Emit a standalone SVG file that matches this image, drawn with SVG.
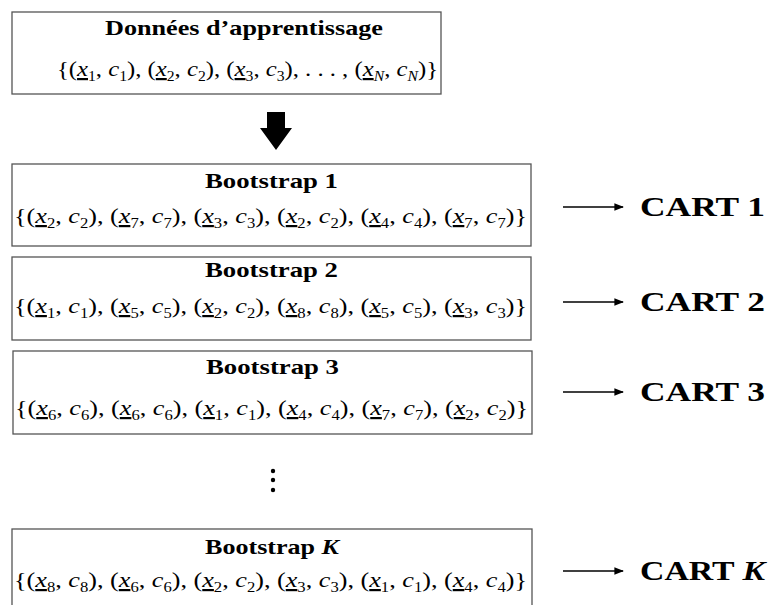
<svg xmlns="http://www.w3.org/2000/svg" width="780" height="605" viewBox="0 0 780 605">
<style>
.box{fill:#fff;stroke:#555;stroke-width:1.3}
.t{font-family:"Liberation Serif","DejaVu Serif",serif;font-weight:bold;font-size:21px;fill:#000}
.m{font-family:"Liberation Serif","DejaVu Serif",serif;font-size:22px;fill:#000}
.c{font-family:"Liberation Serif","DejaVu Serif",serif;font-weight:bold;font-size:27px;fill:#000}
.v{font-style:italic;text-decoration:underline}
.i{font-style:italic}
.s{font-size:14px}
.si{font-size:14px;font-style:italic}
.ar{stroke:#000;stroke-width:1.6;fill:none}
</style>
<defs>
<marker id="ah" viewBox="0 0 10 10" refX="9" refY="5" markerWidth="6" markerHeight="6" orient="auto" markerUnits="strokeWidth"><path d="M0,1 L10,5 L0,9 Z" fill="#000"/></marker>
</defs>

<g id="data">
<rect class="box" x="12" y="12" width="429" height="82"/>
<text class="t" x="105" y="35" textLength="278" lengthAdjust="spacingAndGlyphs">Données d’apprentissage</text>
<text class="m" x="57" y="76" textLength="381" lengthAdjust="spacingAndGlyphs">{(<tspan class="v">x</tspan><tspan class="s" dy="5">1</tspan><tspan dy="-5">, </tspan><tspan class="i">c</tspan><tspan class="s" dy="5">1</tspan><tspan dy="-5">), (</tspan><tspan class="v">x</tspan><tspan class="s" dy="5">2</tspan><tspan dy="-5">, </tspan><tspan class="i">c</tspan><tspan class="s" dy="5">2</tspan><tspan dy="-5">), (</tspan><tspan class="v">x</tspan><tspan class="s" dy="5">3</tspan><tspan dy="-5">, </tspan><tspan class="i">c</tspan><tspan class="s" dy="5">3</tspan><tspan dy="-5">), . . . , (</tspan><tspan class="v">x</tspan><tspan class="si" dy="5">N</tspan><tspan dy="-5">, </tspan><tspan class="i">c</tspan><tspan class="si" dy="5">N</tspan><tspan dy="-5">)}</tspan></text>
</g>

<g id="bigarrow">
<polygon points="267,112 285,112 285,128 292,128 276,150 260,128 267,128" fill="#000"/>
</g>

<g id="boot1">
<rect class="box" x="12" y="164" width="519" height="82"/>
<text class="t" x="205" y="188" textLength="133" lengthAdjust="spacingAndGlyphs">Bootstrap 1</text>
<text class="m" x="14" y="223" textLength="513" lengthAdjust="spacingAndGlyphs">{(<tspan class="v">x</tspan><tspan class="s" dy="5">2</tspan><tspan dy="-5">, </tspan><tspan class="i">c</tspan><tspan class="s" dy="5">2</tspan><tspan dy="-5">), (</tspan><tspan class="v">x</tspan><tspan class="s" dy="5">7</tspan><tspan dy="-5">, </tspan><tspan class="i">c</tspan><tspan class="s" dy="5">7</tspan><tspan dy="-5">), (</tspan><tspan class="v">x</tspan><tspan class="s" dy="5">3</tspan><tspan dy="-5">, </tspan><tspan class="i">c</tspan><tspan class="s" dy="5">3</tspan><tspan dy="-5">), (</tspan><tspan class="v">x</tspan><tspan class="s" dy="5">2</tspan><tspan dy="-5">, </tspan><tspan class="i">c</tspan><tspan class="s" dy="5">2</tspan><tspan dy="-5">), (</tspan><tspan class="v">x</tspan><tspan class="s" dy="5">4</tspan><tspan dy="-5">, </tspan><tspan class="i">c</tspan><tspan class="s" dy="5">4</tspan><tspan dy="-5">), (</tspan><tspan class="v">x</tspan><tspan class="s" dy="5">7</tspan><tspan dy="-5">, </tspan><tspan class="i">c</tspan><tspan class="s" dy="5">7</tspan><tspan dy="-5">)}</tspan></text>
</g>

<g id="boot2">
<rect class="box" x="12" y="257" width="519" height="83"/>
<text class="t" x="205" y="277" textLength="133" lengthAdjust="spacingAndGlyphs">Bootstrap 2</text>
<text class="m" x="14" y="313" textLength="513" lengthAdjust="spacingAndGlyphs">{(<tspan class="v">x</tspan><tspan class="s" dy="5">1</tspan><tspan dy="-5">, </tspan><tspan class="i">c</tspan><tspan class="s" dy="5">1</tspan><tspan dy="-5">), (</tspan><tspan class="v">x</tspan><tspan class="s" dy="5">5</tspan><tspan dy="-5">, </tspan><tspan class="i">c</tspan><tspan class="s" dy="5">5</tspan><tspan dy="-5">), (</tspan><tspan class="v">x</tspan><tspan class="s" dy="5">2</tspan><tspan dy="-5">, </tspan><tspan class="i">c</tspan><tspan class="s" dy="5">2</tspan><tspan dy="-5">), (</tspan><tspan class="v">x</tspan><tspan class="s" dy="5">8</tspan><tspan dy="-5">, </tspan><tspan class="i">c</tspan><tspan class="s" dy="5">8</tspan><tspan dy="-5">), (</tspan><tspan class="v">x</tspan><tspan class="s" dy="5">5</tspan><tspan dy="-5">, </tspan><tspan class="i">c</tspan><tspan class="s" dy="5">5</tspan><tspan dy="-5">), (</tspan><tspan class="v">x</tspan><tspan class="s" dy="5">3</tspan><tspan dy="-5">, </tspan><tspan class="i">c</tspan><tspan class="s" dy="5">3</tspan><tspan dy="-5">)}</tspan></text>
</g>

<g id="boot3">
<rect class="box" x="13" y="351" width="519" height="83"/>
<text class="t" x="206" y="374" textLength="133" lengthAdjust="spacingAndGlyphs">Bootstrap 3</text>
<text class="m" x="15" y="415" textLength="513" lengthAdjust="spacingAndGlyphs">{(<tspan class="v">x</tspan><tspan class="s" dy="5">6</tspan><tspan dy="-5">, </tspan><tspan class="i">c</tspan><tspan class="s" dy="5">6</tspan><tspan dy="-5">), (</tspan><tspan class="v">x</tspan><tspan class="s" dy="5">6</tspan><tspan dy="-5">, </tspan><tspan class="i">c</tspan><tspan class="s" dy="5">6</tspan><tspan dy="-5">), (</tspan><tspan class="v">x</tspan><tspan class="s" dy="5">1</tspan><tspan dy="-5">, </tspan><tspan class="i">c</tspan><tspan class="s" dy="5">1</tspan><tspan dy="-5">), (</tspan><tspan class="v">x</tspan><tspan class="s" dy="5">4</tspan><tspan dy="-5">, </tspan><tspan class="i">c</tspan><tspan class="s" dy="5">4</tspan><tspan dy="-5">), (</tspan><tspan class="v">x</tspan><tspan class="s" dy="5">7</tspan><tspan dy="-5">, </tspan><tspan class="i">c</tspan><tspan class="s" dy="5">7</tspan><tspan dy="-5">), (</tspan><tspan class="v">x</tspan><tspan class="s" dy="5">2</tspan><tspan dy="-5">, </tspan><tspan class="i">c</tspan><tspan class="s" dy="5">2</tspan><tspan dy="-5">)}</tspan></text>
</g>

<g id="dots">
<circle cx="273" cy="471" r="2.2" fill="#000"/>
<circle cx="273" cy="480" r="2.2" fill="#000"/>
<circle cx="273" cy="490" r="2.2" fill="#000"/>
</g>

<g id="bootK">
<rect class="box" x="12" y="529" width="520" height="90"/>
<text class="t" x="205" y="554" textLength="134" lengthAdjust="spacingAndGlyphs">Bootstrap <tspan font-style="italic">K</tspan></text>
<text class="m" x="14" y="587" textLength="513" lengthAdjust="spacingAndGlyphs">{(<tspan class="v">x</tspan><tspan class="s" dy="5">8</tspan><tspan dy="-5">, </tspan><tspan class="i">c</tspan><tspan class="s" dy="5">8</tspan><tspan dy="-5">), (</tspan><tspan class="v">x</tspan><tspan class="s" dy="5">6</tspan><tspan dy="-5">, </tspan><tspan class="i">c</tspan><tspan class="s" dy="5">6</tspan><tspan dy="-5">), (</tspan><tspan class="v">x</tspan><tspan class="s" dy="5">2</tspan><tspan dy="-5">, </tspan><tspan class="i">c</tspan><tspan class="s" dy="5">2</tspan><tspan dy="-5">), (</tspan><tspan class="v">x</tspan><tspan class="s" dy="5">3</tspan><tspan dy="-5">, </tspan><tspan class="i">c</tspan><tspan class="s" dy="5">3</tspan><tspan dy="-5">), (</tspan><tspan class="v">x</tspan><tspan class="s" dy="5">1</tspan><tspan dy="-5">, </tspan><tspan class="i">c</tspan><tspan class="s" dy="5">1</tspan><tspan dy="-5">), (</tspan><tspan class="v">x</tspan><tspan class="s" dy="5">4</tspan><tspan dy="-5">, </tspan><tspan class="i">c</tspan><tspan class="s" dy="5">4</tspan><tspan dy="-5">)}</tspan></text>
</g>

<g id="connectors">
<line class="ar" x1="563" y1="207" x2="623" y2="207" marker-end="url(#ah)"/>
<line class="ar" x1="563" y1="302" x2="623" y2="302" marker-end="url(#ah)"/>
<line class="ar" x1="563" y1="392" x2="623" y2="392" marker-end="url(#ah)"/>
<line class="ar" x1="563" y1="571" x2="623" y2="571" marker-end="url(#ah)"/>
</g>

<g id="cart1"><text class="c" x="640" y="216" textLength="125" lengthAdjust="spacingAndGlyphs">CART 1</text></g>
<g id="cart2"><text class="c" x="640" y="311" textLength="125" lengthAdjust="spacingAndGlyphs">CART 2</text></g>
<g id="cart3"><text class="c" x="640" y="401" textLength="125" lengthAdjust="spacingAndGlyphs">CART 3</text></g>
<g id="cartK"><text class="c" x="640" y="580" textLength="125" lengthAdjust="spacingAndGlyphs">CART <tspan font-style="italic">K</tspan></text></g>
</svg>
